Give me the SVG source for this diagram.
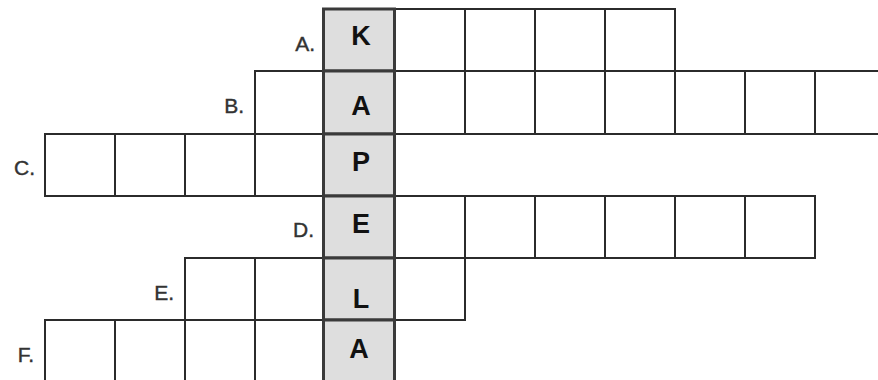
<svg xmlns="http://www.w3.org/2000/svg" width="878" height="380" viewBox="0 0 878 380">
<style>
.c{fill:#fff;stroke:#2b2b2b;stroke-width:2}
.s{fill:#dedede;stroke:#3a3a3a;stroke-width:3}
.k{font-family:"Liberation Sans",Arial,sans-serif;font-weight:bold;font-size:27px;fill:#111;text-anchor:middle}
.l{font-family:"Liberation Sans",Arial,sans-serif;font-size:21px;fill:#333;stroke:#333;stroke-width:0.4;text-anchor:end}
</style>
<rect width="878" height="380" fill="#fff"/>
<g id="rowA">
<rect class="c" x="394" y="9" width="71" height="62"/>
<rect class="c" x="465" y="9" width="70" height="62"/>
<rect class="c" x="535" y="9" width="70" height="62"/>
<rect class="c" x="605" y="9" width="70" height="62"/>
<text class="l" x="315" y="51">A.</text>
</g>
<g id="rowB">
<rect class="c" x="255" y="71" width="68" height="63"/>
<rect class="c" x="394" y="71" width="71" height="63"/>
<rect class="c" x="465" y="71" width="70" height="63"/>
<rect class="c" x="535" y="71" width="70" height="63"/>
<rect class="c" x="605" y="71" width="70" height="63"/>
<rect class="c" x="675" y="71" width="70" height="63"/>
<rect class="c" x="745" y="71" width="70" height="63"/>
<rect class="c" x="815" y="71" width="70" height="63"/>
<text class="l" x="244" y="113">B.</text>
</g>
<g id="rowC">
<rect class="c" x="45" y="134" width="70" height="62"/>
<rect class="c" x="115" y="134" width="70" height="62"/>
<rect class="c" x="185" y="134" width="70" height="62"/>
<rect class="c" x="255" y="134" width="68" height="62"/>
<text class="l" x="35" y="175">C.</text>
</g>
<g id="rowD">
<rect class="c" x="394" y="196" width="71" height="62"/>
<rect class="c" x="465" y="196" width="70" height="62"/>
<rect class="c" x="535" y="196" width="70" height="62"/>
<rect class="c" x="605" y="196" width="70" height="62"/>
<rect class="c" x="675" y="196" width="70" height="62"/>
<rect class="c" x="745" y="196" width="70" height="62"/>
<text class="l" x="314" y="237">D.</text>
</g>
<g id="rowE">
<rect class="c" x="185" y="258" width="70" height="62"/>
<rect class="c" x="255" y="258" width="68" height="62"/>
<rect class="c" x="394" y="258" width="71" height="62"/>
<text class="l" x="174" y="300">E.</text>
</g>
<g id="rowF">
<rect class="c" x="45" y="320" width="70" height="64"/>
<rect class="c" x="115" y="320" width="70" height="64"/>
<rect class="c" x="185" y="320" width="70" height="64"/>
<rect class="c" x="255" y="320" width="68" height="64"/>
<text class="l" x="34" y="362">F.</text>
</g>
<g id="keyword">
<rect class="s" x="323.5" y="9" width="71" height="62"/>
<rect class="s" x="323.5" y="71" width="71" height="63"/>
<rect class="s" x="323.5" y="134" width="71" height="62"/>
<rect class="s" x="323.5" y="196" width="71" height="62"/>
<rect class="s" x="323.5" y="258" width="71" height="62"/>
<rect class="s" x="323.5" y="320" width="71" height="64"/>
<text class="k" x="361" y="45">K</text>
<text class="k" x="361" y="115">A</text>
<text class="k" x="361" y="171">P</text>
<text class="k" x="361" y="233">E</text>
<text class="k" x="361" y="308">L</text>
<text class="k" x="359" y="358">A</text>
</g>
<g id="connectors"/>
</svg>
